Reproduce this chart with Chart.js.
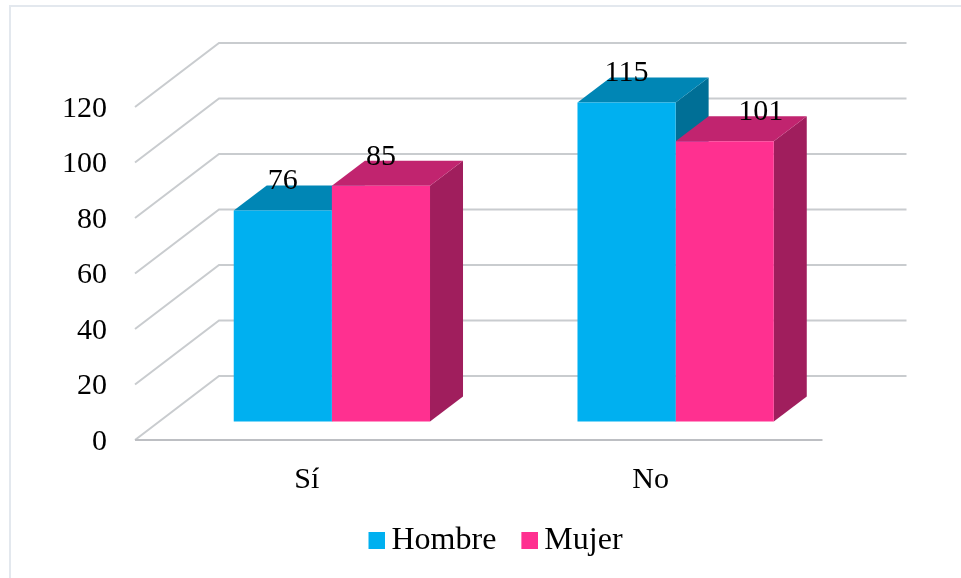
<!DOCTYPE html>
<html>
<head>
<meta charset="utf-8">
<script src="https://cdn.jsdelivr.net/npm/chart.js@4"></script>
<style>html,body{margin:0;padding:0;background:#fff}canvas{display:block}</style>
</head>
<body>
<canvas id="c" width="961" height="578"></canvas>
<script>
const categories = ["Sí", "No"];
const hombre = [76, 115];
const mujer = [85, 101];
const yTicks = [0, 20, 40, 60, 80, 100, 120];
const seriesNames = ["Hombre", "Mujer"];
const frontColors = ["#00B0F0", "#FF3090"];
const topColors = ["#0086B5", "#C1246F"];
const sideColors = ["#006F96", "#A01E5D"];

const FONT = '"Liberation Serif", serif';
const WALL = {dx: 84, dy: -64};
const BAR_SHIFT = {dx: 25, dy: -18.5};
const BAR_DEPTH = {dx: 33, dy: -25};

function swatch(color) {
  const s = document.createElement('canvas');
  s.width = 21; s.height = 17;
  const g = s.getContext('2d');
  g.fillStyle = color; g.fillRect(4, 0, 17, 17);
  return s;
}
const swatches = frontColors.map(swatch);

function line(ctx, pts, color, w) {
  ctx.strokeStyle = color; ctx.lineWidth = w;
  ctx.beginPath();
  pts.forEach((p, i) => i ? ctx.lineTo(p[0], p[1]) : ctx.moveTo(p[0], p[1]));
  ctx.stroke();
}
function poly(ctx, pts, color) {
  ctx.fillStyle = color;
  ctx.beginPath();
  pts.forEach((p, i) => i ? ctx.lineTo(p[0], p[1]) : ctx.moveTo(p[0], p[1]));
  ctx.closePath(); ctx.fill();
}

const scene = {
  id: 'scene',
  beforeDraw(chart) {
    const ctx = chart.ctx;
    ctx.save();
    ctx.fillStyle = '#fff'; ctx.fillRect(0, 0, chart.width, chart.height);
    ctx.fillStyle = '#E3E8EE';
    ctx.fillRect(9, 5, chart.width - 9, 2);
    ctx.fillRect(9, 5, 2, chart.height - 5);
    ctx.restore();
  },
  beforeDatasetsDraw(chart) {
    const ctx = chart.ctx, y = chart.scales.y, a = chart.chartArea;
    ctx.save();
    yTicks.forEach(v => {
      const py = y.getPixelForValue(v);
      line(ctx, [[a.left, py], [a.left + WALL.dx, py + WALL.dy], [a.right + WALL.dx, py + WALL.dy]], '#C9CCCF', 2);
    });
    line(ctx, [[a.left, a.bottom], [a.right, a.bottom]], '#BDBFC3', 2);
    const metas = [chart.getDatasetMeta(0), chart.getDatasetMeta(1)];
    categories.forEach((_, i) => {
      metas.forEach((m, k) => {
        const el = m.data[i];
        const l = el.x - el.width / 2 + BAR_SHIFT.dx, r = el.x + el.width / 2 + BAR_SHIFT.dx;
        const t = el.y + BAR_SHIFT.dy, b = el.base + BAR_SHIFT.dy;
        const d = BAR_DEPTH;
        poly(ctx, [[r, t], [r + d.dx, t + d.dy], [r + d.dx, b + d.dy], [r, b]], sideColors[k]);
        poly(ctx, [[l, t], [l + d.dx, t + d.dy], [r + d.dx, t + d.dy], [r, t]], topColors[k]);
      });
    });
    ctx.translate(BAR_SHIFT.dx, BAR_SHIFT.dy);
  },
  afterDatasetsDraw(chart) {
    const ctx = chart.ctx;
    ctx.restore();
    ctx.save();
    ctx.fillStyle = '#000';
    ctx.font = '30px ' + FONT;
    ctx.textAlign = 'center';
    ctx.textBaseline = 'middle';
    chart.data.datasets.forEach((ds, k) => {
      chart.getDatasetMeta(k).data.forEach((el, i) => {
        const extra = (k === 1 && i === 1) ? 36 : 0;
        ctx.fillText(String(ds.data[i]), el.x + BAR_SHIFT.dx + extra, el.y + BAR_SHIFT.dy - 29);
      });
    });
    ctx.restore();
  },
  afterLayout(chart) {
    const lg = chart.legend;
    const w = lg.right - lg.left;
    lg.left = 495 - w / 2 + 3.5;
    lg.right = lg.left + w;
    const h = lg.bottom - lg.top;
    lg.top = 530 - h / 2;
    lg.bottom = lg.top + h;
  }
};

new Chart(document.getElementById('c'), {
  type: 'bar',
  data: {
    labels: categories,
    datasets: [
      {label: seriesNames[0], data: hombre, backgroundColor: frontColors[0], borderWidth: 0, clip: false},
      {label: seriesNames[1], data: mujer, backgroundColor: frontColors[1], borderWidth: 0, clip: false}
    ]
  },
  options: {
    responsive: false,
    animation: false,
    devicePixelRatio: 1,
    layout: {padding: {top: 107, right: 138.5, left: 0, bottom: 5}},
    datasets: {bar: {categoryPercentage: 0.571, barPercentage: 1}},
    scales: {
      x: {
        grid: {display: false},
        border: {display: false},
        ticks: {font: {family: FONT, size: 30}, color: '#000', padding: 14, maxRotation: 0},
        afterFit(s) { s.height = 60; }
      },
      y: {
        min: 0, max: 120,
        grid: {display: false},
        border: {display: false},
        ticks: {stepSize: 20, font: {family: FONT, size: 30}, color: '#000', padding: 20, labelOffset: 2},
        afterFit(s) { s.width = 135; }
      }
    },
    plugins: {
      tooltip: {enabled: false},
      legend: {
        position: 'bottom',
        labels: {
          usePointStyle: true,
          pointStyleWidth: 1,
          padding: 31,
          color: '#000',
          font: {family: FONT, size: 32, lineHeight: 1},
          generateLabels(chart) {
            return Chart.defaults.plugins.legend.labels.generateLabels(chart).map((it, i) => {
              it.pointStyle = swatches[i];
              return it;
            });
          }
        }
      }
    }
  },
  plugins: [scene]
});
</script>
</body>
</html>
